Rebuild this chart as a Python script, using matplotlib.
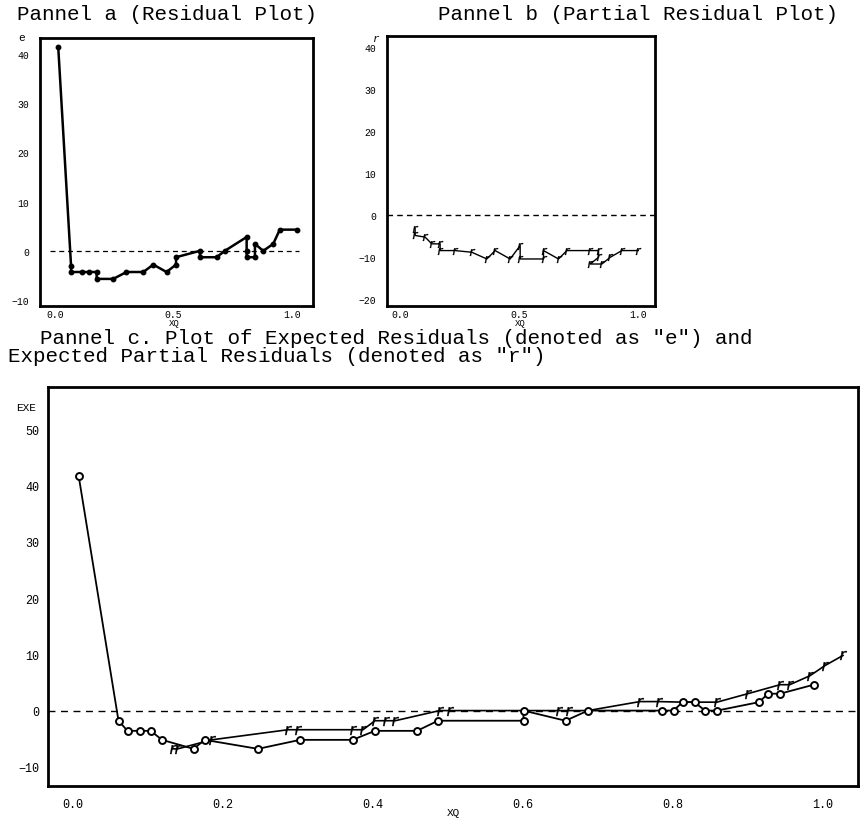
import matplotlib
matplotlib.use("Agg")
import matplotlib.pyplot as plt

# ---------------- data ----------------
# Panel a: residuals e vs XQ
xa = [0.014, 0.068, 0.068, 0.113, 0.145, 0.176, 0.176, 0.246, 0.302, 0.373, 0.415,
      0.471, 0.511, 0.511, 0.612, 0.612, 0.682, 0.717, 0.809, 0.809, 0.809, 0.844,
      0.844, 0.879, 0.921, 0.949, 1.020]
ya = [41.3, -3.0, -4.3, -4.3, -4.3, -4.3, -5.7, -5.7, -4.3, -4.3, -2.8,
      -4.3, -2.8, -1.3, 0.0, -1.3, -1.3, 0.0, 2.8, 0.0, -1.3, -1.3,
      1.4, 0.0, 1.4, 4.3, 4.3]

# Panel b: partial residuals r vs XQ
xb = [0.063, 0.063, 0.105, 0.133, 0.168, 0.168, 0.231, 0.301, 0.364, 0.399, 0.462,
      0.504, 0.504, 0.602, 0.602, 0.665, 0.700, 0.798, 0.833, 0.833, 0.798, 0.847,
      0.882, 0.931, 1.000]
yb = [-3.3, -4.9, -5.3, -6.9, -6.9, -8.5, -8.5, -8.9, -10.5, -8.5, -10.5,
      -7.3, -10.5, -10.5, -8.5, -10.5, -8.5, -8.5, -8.5, -10.1, -11.7, -11.7,
      -10.1, -8.5, -8.5]

# Panel c: expected residuals (e)
xe = [0.008, 0.061, 0.073, 0.089, 0.104, 0.119, 0.161, 0.176, 0.247, 0.303, 0.373,
      0.403, 0.459, 0.487, 0.601, 0.601, 0.657, 0.687, 0.785, 0.801, 0.813, 0.829,
      0.843, 0.859, 0.915, 0.927, 0.943, 0.988]
ye = [41.6, -1.8, -3.6, -3.6, -3.6, -5.2, -6.8, -5.2, -6.8, -5.2, -5.2,
      -3.6, -3.6, -1.8, -1.8, 0.0, -1.8, 0.0, 0.0, 0.0, 1.5, 1.5,
      0.0, 0.0, 1.5, 3.0, 3.0, 4.6]

# Panel c: expected partial residuals (r)
xr = [0.133, 0.140, 0.185, 0.287, 0.300, 0.373, 0.387, 0.403, 0.417, 0.430, 0.489,
      0.503, 0.648, 0.661, 0.687, 0.756, 0.781, 0.813, 0.829, 0.859, 0.900, 0.943,
      0.956, 0.983, 1.003, 1.027]
yr = [-6.8, -6.8, -5.2, -3.4, -3.4, -3.4, -3.4, -1.8, -1.8, -1.8, 0.0,
      0.0, 0.0, 0.0, 0.0, 1.6, 1.6, 1.5, 1.5, 1.5, 3.0, 4.6,
      4.6, 6.2, 8.0, 9.8]
r_hidden = [14, 17, 18]   # r points that sit under an "e" symbol

ticks_a_x = [0.0, 0.5, 1.0]
ticks_a_y = [-10, 0, 10, 20, 30, 40]
ticks_b_y = [-20, -10, 0, 10, 20, 30, 40]
ticks_c_x = [0.0, 0.2, 0.4, 0.6, 0.8, 1.0]
ticks_c_y = [-10, 0, 10, 20, 30, 40, 50]

# ---------------- style ----------------
MONO = ["Liberation Mono", "DejaVu Sans Mono"]
plt.rcParams["font.family"] = MONO

W, H = 862, 820
fig = plt.figure(figsize=(W / 100, H / 100), dpi=100)


def box(l, t, r, b):
    return [l / W, 1 - b / H, (r - l) / W, (b - t) / H]


def style(ax, fs=8):
    for s in ax.spines.values():
        s.set_linewidth(2.0)
        s.set_color("black")
    ax.tick_params(length=0, labelsize=fs, pad=6)
    for lab in ax.get_xticklabels() + ax.get_yticklabels():
        lab.set_family(MONO)


# Panel a
axa = fig.add_axes(box(40, 39, 313, 307))
axa.set_xlim(-0.063, 1.089)
axa.set_ylim(-11.2, 43.2)
axa.hlines(0, -0.02, 1.03, colors="black", linestyles=(0, (4, 3)), linewidth=0.9)
axa.plot(xa, ya, color="black", linewidth=1.8, marker="o", markersize=3.2,
         markerfacecolor="black", markeredgecolor="black")
axa.set_xticks(ticks_a_x)
axa.set_xticklabels(["0.0", "0.5", "1.0"])
axa.set_yticks(ticks_a_y)
style(axa, 7)
axa.tick_params(axis="y", pad=8)
axa.tick_params(axis="x", pad=2)
fig.text(22 / W, 1 - 38 / H, "e", fontsize=8, ha="center", va="center", family=MONO)
fig.text(174 / W, 1 - 324 / H, "XQ", fontsize=6.5, ha="center", va="center", family=MONO)

# Panel b
axb = fig.add_axes(box(387, 37, 655, 307))
axb.set_xlim(-0.055, 1.07)
axb.set_ylim(-21.7, 42.6)
axb.axhline(0, color="black", linestyle=(0, (4, 3)), linewidth=1.0)
axb.plot(xb, yb, color="black", linewidth=1.0, marker="$r$", markersize=5,
         markerfacecolor="black", markeredgecolor="black", markeredgewidth=0.2)
axb.set_xticks(ticks_a_x)
axb.set_xticklabels(["0.0", "0.5", "1.0"])
axb.set_yticks(ticks_b_y)
style(axb, 7)
axb.tick_params(axis="y", pad=8)
axb.tick_params(axis="x", pad=2)
fig.text(376 / W, 1 - 39 / H, "r", fontsize=8, ha="center", va="center",
         family=MONO, style="italic")
fig.text(520 / W, 1 - 324 / H, "XQ", fontsize=6.5, ha="center", va="center", family=MONO)

# Panel c
axc = fig.add_axes(box(48, 388, 858, 787))
axc.set_xlim(-0.033, 1.047)
axc.set_ylim(-13.4, 57.5)
axc.axhline(0, color="black", linestyle=(0, (5, 4)), linewidth=1.0)
axc.plot(xr, yr, color="black", linewidth=1.2)
show_r = [i for i in range(len(xr)) if i not in r_hidden]
axc.plot(xr, yr, linestyle="none", marker="$r$", markersize=6.5,
         markerfacecolor="black", markeredgecolor="black", markeredgewidth=0.2,
         markevery=show_r)
axc.plot(xe, ye, color="black", linewidth=1.3, marker="o", markersize=5,
         markerfacecolor="white", markeredgecolor="black", markeredgewidth=1.4)
axc.set_xticks(ticks_c_x)
axc.set_xticklabels(["0.0", "0.2", "0.4", "0.6", "0.8", "1.0"])
axc.set_yticks(ticks_c_y)
style(axc, 8.5)
axc.tick_params(axis="x", pad=9)
fig.text(26 / W, 1 - 408 / H, "EXE", fontsize=8, ha="center", va="center", family=MONO)
fig.text(453 / W, 1 - 813 / H, "XQ", fontsize=8, ha="center", va="center", family=MONO)

# Titles
fig.text(167 / W, 1 - 14 / H, "Pannel a (Residual Plot)", fontsize=15,
         ha="center", va="center", family=MONO)
fig.text(638 / W, 1 - 14 / H, "Pannel b (Partial Residual Plot)", fontsize=15,
         ha="center", va="center", family=MONO)
fig.text(40 / W, 1 - 339 / H,
         'Pannel c. Plot of Expected Residuals (denoted as "e") and',
         fontsize=15, ha="left", va="center", family=MONO)
fig.text(8 / W, 1 - 357 / H,
         'Expected Partial Residuals (denoted as "r")',
         fontsize=15, ha="left", va="center", family=MONO)

fig.savefig("out.png", dpi=100)
